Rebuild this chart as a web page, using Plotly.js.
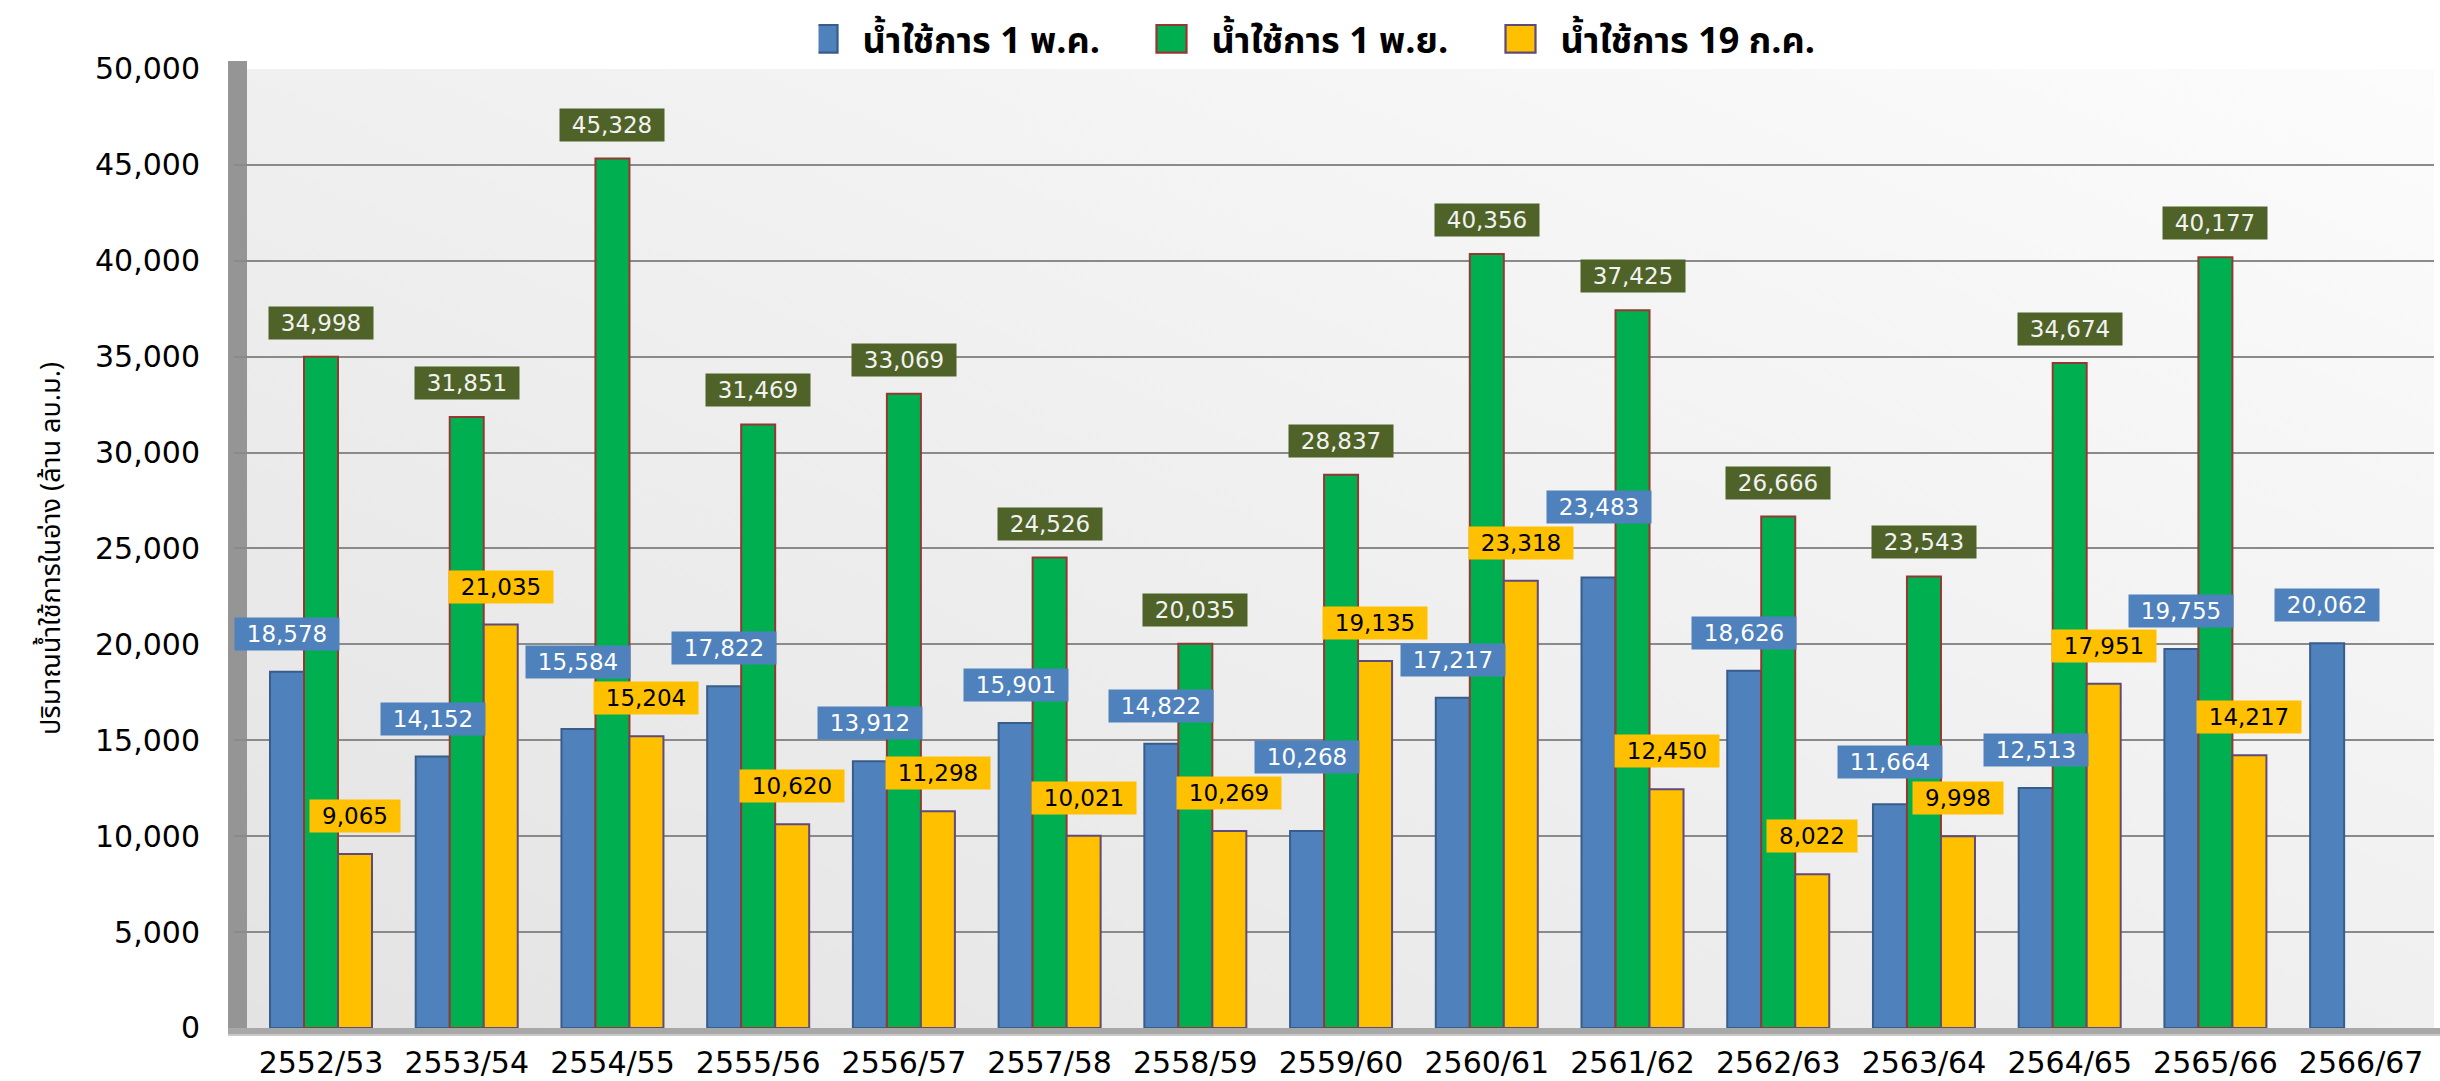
<!DOCTYPE html>
<html>
<head>
<meta charset="utf-8">
<script src="https://cdn.plot.ly/plotly-3.0.1.min.js"></script>
<style>
html,body{margin:0;padding:0;background:#fff;}
#chart{width:2440px;height:1081px;}
</style>
</head>
<body>
<div id="chart"></div>
<script>
// ---- data ----
const categories = ["2552/53","2553/54","2554/55","2555/56","2556/57","2557/58","2558/59","2559/60","2560/61","2561/62","2562/63","2563/64","2564/65","2565/66","2566/67"];
const seriesNames = ["น้ำใช้การ 1 พ.ค.", "น้ำใช้การ 1 พ.ย.", "น้ำใช้การ 19 ก.ค."];
const useMay1 = [18578,14152,15584,17822,13912,15901,14822,10268,17217,23483,18626,11664,12513,19755,20062];
const useNov1 = [34998,31851,45328,31469,33069,24526,20035,28837,40356,37425,26666,23543,34674,40177,null];
const useJul19 = [9065,21035,15204,10620,11298,10021,10269,19135,23318,12450,8022,9998,17951,14217,null];
const yTitle = "ปริมาณน้ำใช้การในอ่าง (ล้าน ลบ.ม.)";

// ---- styling ----
const W = 2440, Hh = 1081;
const M = {l:234, r:6, t:62, b:53};
const PW = W - M.l - M.r, PH = Hh - M.t - M.b;
const YMAX = 50000;
const BARGAP = 0.3;
const thaiFont = "'Noto Sans Thai','Noto Serif Thai','Noto Sans Thai Looped','Tahoma','DejaVu Sans',sans-serif";
const numFont = "'DejaVu Sans', Verdana, sans-serif";

const styles = [
  {fill:'#4f81bd', line:'#385d8a', lblBg:'#4f81bd', lblFg:'#ffffff'},
  {fill:'#00b050', line:'#953735', lblBg:'#4f6228', lblFg:'#f2f2f2'},
  {fill:'#ffc000', line:'#604a7b', lblBg:'#ffc000', lblFg:'#000000'}
];
const seriesData = [useMay1, useNov1, useJul19];

const traces = seriesData.map((vals, k) => ({
  type:'bar', name: seriesNames[k], x: categories, y: vals,
  marker:{color: styles[k].fill, line:{color: styles[k].line, width:2}},
  hoverinfo:'x+y'
}));

// ---- data labels with simple collision avoidance ----
const cw = PW / categories.length;
const slot = (1 - BARGAP) / 3;
const lblFs = 23, lblH = 32;
function textW(s){ let w=0; for(const c of s){ w += (c===',') ? 0.318 : 0.636; } return w*lblFs; }
const placed = [];
const annotations = [];
const order = [1, 2, 0];
const baseGap = [38, 34, 38];
order.forEach(k => {
  seriesData[k].forEach((v, i) => {
    if (v === null || v === undefined) return;
    const txt = v.toLocaleString('en-US');
    const w = Math.round(textW(txt) + 24);
    const xi = i + (k - 1) * slot;
    const cx = (xi + 0.5) * cw;
    const top = v / YMAX * PH;
    let cy = top + baseGap[k];
    let moved = true, guard = 0;
    while (moved && guard < 20) {
      moved = false; guard++;
      for (const p of placed) {
        if (Math.abs(p.cx - cx) < (p.w + w) / 2 + 2 && Math.abs(p.cy - cy) < lblH + 2) {
          cy = p.cy + lblH + 4; moved = true;
        }
      }
    }
    placed.push({cx, cy, w});
    annotations.push({
      x: xi, y: v, xref:'x', yref:'y', yanchor:'middle', xanchor:'center',
      yshift: cy - top, showarrow:false, text: txt,
      font:{family:numFont, size:lblFs, color: styles[k].lblFg},
      bgcolor: styles[k].lblBg, width: w, height: lblH, borderpad:0, align:'center', valign:'middle'
    });
  });
});

// ---- 3D-ish wall and floor ----
const px2x = p => p / PW, px2y = p => p / PH;
const shapes = [
  {type:'rect', xref:'paper', yref:'paper', layer:'below',
   x0: px2x(-6), x1: px2x(13), y0: px2y(-7), y1: 1 + px2y(8),
   fillcolor:'#959595', line:{width:0}},
  {type:'rect', xref:'paper', yref:'paper', layer:'below',
   x0: px2x(-6), x1: 1 + px2x(6), y0: px2y(-7), y1: px2y(0),
   fillcolor:'#a8a8a8', line:{width:0}},
  {type:'line', xref:'paper', yref:'paper', layer:'below',
   x0: px2x(-6), x1: 1 + px2x(6), y0: px2y(-7), y1: px2y(-7),
   line:{color:'#c8c8c8', width:2}}
];

const gradSvg = "<svg xmlns='http://www.w3.org/2000/svg' width='200' height='100' preserveAspectRatio='none'><defs><linearGradient id='g' x1='0' y1='1' x2='1' y2='0'><stop offset='0' stop-color='#e3e3e3'/><stop offset='1' stop-color='#fcfcfc'/></linearGradient></defs><rect width='200' height='100' fill='url(#g)'/></svg>";
const images = [{
  source: 'data:image/svg+xml;charset=utf-8,' + encodeURIComponent(gradSvg),
  xref:'paper', yref:'paper', x:px2x(13), y:1, sizex:1 - px2x(13), sizey:1,
  sizing:'stretch', layer:'below', xanchor:'left', yanchor:'top'
}];

const layout = {
  width: W, height: Hh,
  margin: M,
  paper_bgcolor:'#ffffff', plot_bgcolor:'rgba(0,0,0,0)',
  barmode:'group', bargap: BARGAP, bargroupgap: 0,
  showlegend:true,
  legend:{orientation:'h', xref:'container', yref:'container', x:0.55, y:0.964,
          xanchor:'center', yanchor:'middle',
          font:{family:thaiFont, size:36, color:'#000', weight:'bold'},
          entrywidth:300, entrywidthmode:'pixels', itemwidth:34,
          bgcolor:'rgba(0,0,0,0)'},
  xaxis:{type:'category', showgrid:false, showline:false, zeroline:false,
         ticks:'outside', ticklen:8, tickcolor:'rgba(0,0,0,0)',
         tickfont:{family:numFont, size:30, color:'#000'}},
  yaxis:{range:[0, YMAX], dtick:5000, tickformat:',d', showline:false, zeroline:false,
         showgrid:true, gridcolor:'#8a8a8a', gridwidth:2,
         ticks:'outside', ticklen:27, tickcolor:'rgba(0,0,0,0)',
         tickfont:{family:numFont, size:30, color:'#000'},
         title:{text:yTitle, standoff:26, font:{family:thaiFont, size:27, color:'#000'}}},
  annotations, shapes, images
};

Plotly.newPlot('chart', traces, layout, {displayModeBar:false, staticPlot:true}).then(gd => {
  // enlarge legend swatches to match the reference's larger squares
  gd.querySelectorAll('.legend .legendpoints path').forEach(p => {
    p.setAttribute('transform', 'translate(4,0) scale(2.5,2.3)');
    p.style.strokeWidth = '0.9px';
  });
});
</script>
</body>
</html>
